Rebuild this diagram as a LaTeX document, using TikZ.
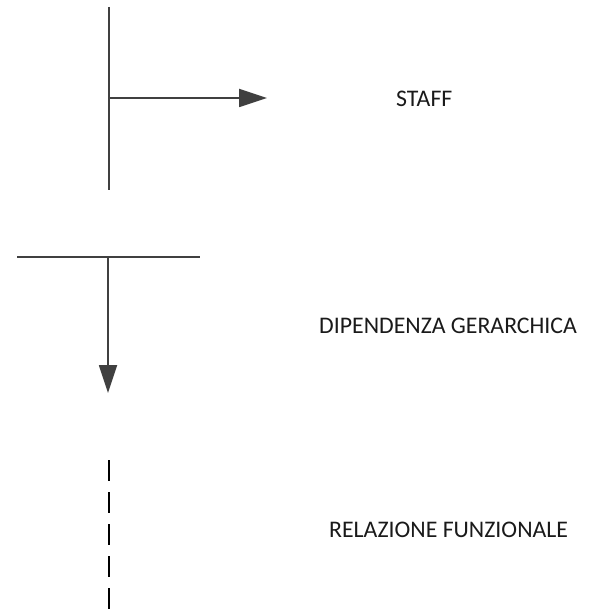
\documentclass[tikz,border=0pt]{standalone}
\usepackage{fontspec}
\setmainfont{Carlito}
\usetikzlibrary{arrows.meta}
\definecolor{linegray}{HTML}{404040}
\definecolor{textblack}{HTML}{1A1A1A}
\begin{document}
\begin{tikzpicture}[x=1pt,y=-1pt,
  solidline/.style={draw=linegray,line width=1.8pt},
  arrowline/.style={solidline,-{Triangle[length=28pt,width=18pt]}},
  dashline/.style={draw=black,line width=1.8pt,dash pattern=on 21pt off 11pt},
  label/.style={inner sep=0pt,anchor=base west,text=textblack,font=\fontsize{23.8}{28}\selectfont}]
\useasboundingbox (0,0) rectangle (588,612);
% STAFF
\coordinate (s1) at (109,7);
\coordinate (s2) at (109,190);
\coordinate (sm) at (109,98);
\coordinate (st) at (267,98);
\draw[solidline] (s1) -- (s2);
\draw[arrowline] (sm) -- (st);
\node[label] (staff) at (396,107) {STAFF};
% DIPENDENZA GERARCHICA
\coordinate (d1) at (17,257);
\coordinate (d2) at (200,257);
\coordinate (dm) at (108,257);
\coordinate (dt) at (108,393);
\draw[solidline] (d1) -- (d2);
\draw[arrowline] (dm) -- (dt);
\node[label] (dip) at (319,333) {DIPENDENZA GERARCHICA};
% RELAZIONE FUNZIONALE
\coordinate (r1) at (109,460);
\coordinate (r2) at (109,609);
\draw[dashline] (r1) -- (r2);
\node[label] (rel) at (329,537) {RELAZIONE FUNZIONALE};
\end{tikzpicture}
\end{document}
